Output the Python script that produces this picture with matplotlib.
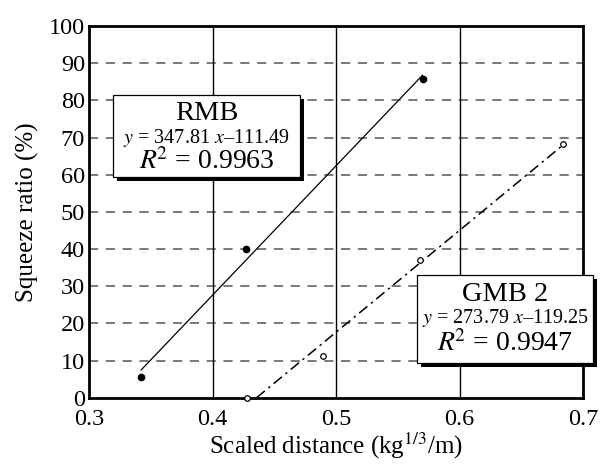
import numpy as np
import matplotlib
matplotlib.use("Agg")
import matplotlib.pyplot as plt
from matplotlib.patches import Rectangle
import matplotlib.patheffects as pe

plt.rcParams['font.family'] = ['Liberation Serif', 'DejaVu Serif']
plt.rcParams['mathtext.fontset'] = 'stix'

# data
rmb_x = [0.342, 0.427, 0.570]
rmb_y = [5.6, 40.0, 85.8]
gmb_x = [0.428, 0.489, 0.568, 0.684]
gmb_y = [0.0, 11.3, 37.0, 68.3]

rmb_fit = (347.81, -111.49, 0.9963)
gmb_fit = (273.79, -119.25, 0.9947)

fig = plt.figure(figsize=(6.02, 4.69), dpi=100)
ax = fig.add_axes([0.1483, 0.152, 0.8201, 0.7926])

# grid: dashed horizontal, solid vertical
for yv in range(10, 100, 10):
    ax.axhline(yv, color="#555555", lw=1.1, ls=(0, (6, 5)), zorder=1)
for xv in [0.4, 0.5, 0.6]:
    ax.axvline(xv, color="black", lw=1.0, zorder=1)

# fitted lines
a, b, _ = rmb_fit
xs = np.array([min(rmb_x), max(rmb_x)])
ax.plot(xs, a * xs + b, color="black", lw=0.9, zorder=2)

a, b, _ = gmb_fit
xs = np.array([-b / a, max(gmb_x)])
ax.plot(xs, a * xs + b, color="black", lw=1.1, ls=(0, (7, 3, 1.5, 3)), zorder=2)

ax.plot(rmb_x, rmb_y, "o", ms=4.5, color="black", zorder=3)
ax.plot(gmb_x, gmb_y, "o", ms=4, mfc="white", mec="black", mew=0.9,
        zorder=3, clip_on=False)

ax.set_xlim(0.3, 0.7)
ax.set_ylim(0, 100)
ax.set_xticks([0.3, 0.4, 0.5, 0.6, 0.7])
ax.set_yticks(range(0, 101, 10))
ax.tick_params(length=0, labelsize=17.5)
ax.tick_params(axis="y", pad=3)
ax.tick_params(axis="x", pad=8)
for s in ax.spines.values():
    s.set_linewidth(2)
ax.set_xlabel("Scaled distance (kg$^{\\mathrm{1/3}}$/m)", fontsize=18, labelpad=0.5)
ax.set_ylabel("Squeeze ratio (%)", fontsize=18, labelpad=7)


def eq_box(x0, x1, y0, y1, name, fit, ys):
    r = Rectangle((x0, y0), x1 - x0, y1 - y0, facecolor="white",
                  edgecolor="black", lw=0.9, zorder=5, clip_on=False)
    r.set_path_effects([pe.SimplePatchShadow(offset=(3, -3), shadow_rgbFace="black", alpha=1),
                        pe.Normal()])
    ax.add_patch(r)
    xc = (x0 + x1) / 2
    ax.text(xc, ys[0], name, ha="center", va="center", fontsize=20.5, zorder=6)
    ax.text(xc, ys[1], "$y$ = %.2f $x$\u2013%.2f" % (fit[0], -fit[1]),
            ha="center", va="center", fontsize=14.5, zorder=6)
    ax.text(xc, ys[2], "$R^{\\!2}$ = %.4f" % fit[2], ha="center", va="center",
            fontsize=20, zorder=6)


eq_box(0.3192, 0.4709, 59.4, 81.4, "RMB", rmb_fit, [76.4, 70.0, 63.6])
eq_box(0.5657, 0.7082, 9.3, 33.0, "GMB 2", gmb_fit, [27.8, 21.4, 14.6])

fig.savefig("out.png", dpi=100)
